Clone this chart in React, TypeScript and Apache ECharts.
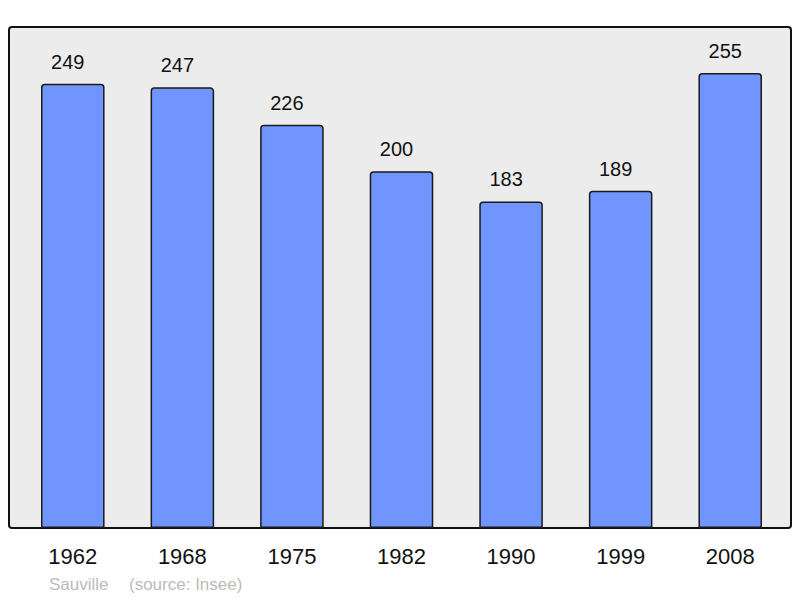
import React, { useEffect, useRef } from "react";
import * as echarts from "echarts";

const years = ["1962", "1968", "1975", "1982", "1990", "1999", "2008"];
const population = [249, 247, 226, 200, 183, 189, 255];
const townName = "Sauville";
const sourceText = "(source: Insee)";

export default function App() {
  const ref = useRef<HTMLDivElement>(null);
  useEffect(() => {
    if (!ref.current) return;
    const chart = echarts.init(ref.current, null, { renderer: "svg" });
    chart.setOption({
      animation: false,
      backgroundColor: "#ffffff",
      textStyle: { fontFamily: "Liberation Sans, Arial, sans-serif" },
      graphic: [
        {
          type: "rect",
          shape: { x: 9, y: 27, width: 782, height: 501, r: 3 },
          style: { fill: "#ececec", stroke: "#111111", lineWidth: 2 },
          z: -10,
        },
        {
          type: "text",
          x: 49,
          y: 584,
          style: {
            text: townName,
            fill: "#bbbbbb",
            font: "17px Liberation Sans, Arial, sans-serif",
            textVerticalAlign: "middle",
          },
        },
        {
          type: "text",
          x: 129,
          y: 584,
          style: {
            text: sourceText,
            fill: "#bbbbbb",
            font: "17px Liberation Sans, Arial, sans-serif",
            textVerticalAlign: "middle",
          },
        },
      ],
      grid: { left: 18, right: 15, top: 27, bottom: 70, containLabel: false },
      xAxis: {
        type: "category",
        data: years,
        axisLine: { show: false },
        axisTick: { show: false },
        axisLabel: {
          color: "#111111",
          fontSize: 22,
          margin: 17,
          fontFamily: "Liberation Sans, Arial, sans-serif",
        },
      },
      yAxis: {
        type: "value",
        min: 0,
        max: 280.8,
        show: false,
        splitLine: { show: false },
      },
      series: [
        {
          type: "bar",
          data: population,
          barWidth: "58%",
          itemStyle: {
            color: "#7095ff",
            borderColor: "#1a1a1a",
            borderWidth: 1.5,
            borderRadius: [3, 3, 0, 0],
          },
          label: {
            show: true,
            position: "top",
            distance: 12,
            offset: [-5, 0],
            color: "#111111",
            fontSize: 20,
            fontFamily: "Liberation Sans, Arial, sans-serif",
          },
        },
      ],
    });
    return () => chart.dispose();
  }, []);
  return <div ref={ref} style={{ width: 800, height: 598, position: "absolute", left: 0, top: 0 }} />;
}
